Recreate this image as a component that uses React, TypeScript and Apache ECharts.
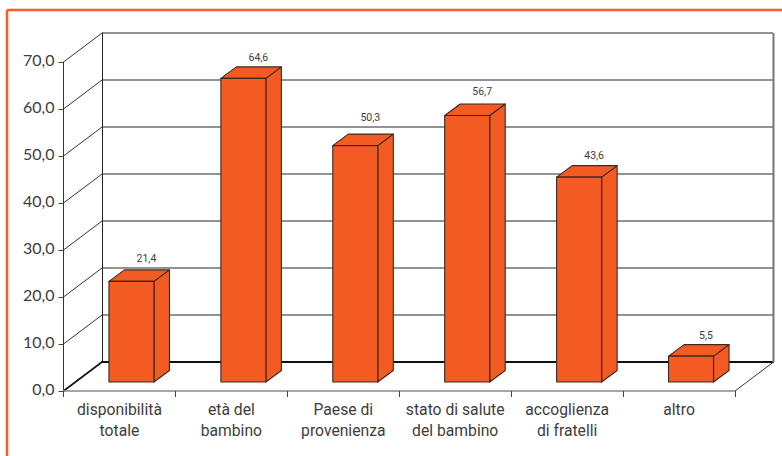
import React, { useEffect, useRef } from "react";
import * as echarts from "echarts";

const categories = ["disponibilità\ntotale", "età del\nbambino", "Paese di\nprovenienza", "stato di salute\ndel bambino", "accoglienza\ndi fratelli", "altro"];
const values = [21.4, 64.6, 50.3, 56.7, 43.6, 5.5];
const wallTicks = [0, 10, 20, 30, 40, 50, 60, 70];

const FRONT = { left: 63.5, top: 62, width: 671.5, height: 329 };
const BACK = { left: 102, top: 33, width: 671, height: 329 };
const DX = BACK.left - FRONT.left;
const DY = BACK.top - FRONT.top;
const LABEL_LIFT = [23, 21, 28, 24, 22, 21];

const comma = (v: number) => v.toFixed(1).replace(".", ",");
const ORANGE = "#F35B22";
const EDGE = "#3A2A22";
const ink = "#3d3d3d";

export default function App() {
  const ref = useRef<HTMLDivElement>(null);
  useEffect(() => {
    const chart = echarts.init(ref.current!, undefined, { renderer: "svg" });
    chart.setOption({
      animation: false,
      backgroundColor: "#ffffff",
      graphic: [
        { type: "line", z: 0, shape: { x1: 7, y1: 10, x2: 782, y2: 10 }, style: { stroke: "#F4602A", lineWidth: 2.6 } },
        { type: "line", z: 0, shape: { x1: 7, y1: 10, x2: 7, y2: 456 }, style: { stroke: "#F4602A", lineWidth: 2.6 } },
      ],
      grid: [
        { ...FRONT, z: 3 },
        { ...BACK, z: 1 },
      ],
      xAxis: [
        {
          type: "category", gridIndex: 0, data: categories, boundaryGap: true, z: 3,
          axisLine: { show: true, lineStyle: { color: "#8a8a8a", width: 1.5 } },
          axisTick: { show: true, length: 6, lineStyle: { color: "#444", width: 1 } },
          axisLabel: { color: ink, fontFamily: "Roboto", fontSize: 15.7, lineHeight: 21, margin: 8, interval: 0 },
        },
        {
          type: "category", gridIndex: 1, data: categories, boundaryGap: true, z: 1,
          axisLine: { show: true, lineStyle: { color: "#111", width: 2 } },
          axisTick: { show: false }, axisLabel: { show: false },
        },
      ],
      yAxis: [
        {
          type: "value", gridIndex: 0, min: 0, max: 70, interval: 10, z: 3,
          axisLine: { show: true, lineStyle: { color: "#333", width: 1 } },
          axisTick: { show: true, length: 5, lineStyle: { color: "#444", width: 1 } },
          axisLabel: { color: ink, fontFamily: "Lato", fontSize: 16, margin: 9, verticalAlign: "bottom", lineHeight: 5, formatter: comma },
          splitLine: { show: false },
        },
        {
          type: "value", gridIndex: 1, min: 0, max: 70, interval: 10, z: 1,
          axisLine: { show: true, lineStyle: { color: "#222", width: 1 } },
          axisTick: { show: false }, axisLabel: { show: false },
          splitLine: { show: true, lineStyle: { color: "#6f6f6f", width: 1.5 } },
        },
      ],
      series: [
        {
          type: "custom", xAxisIndex: 0, yAxisIndex: 0, z: 2, silent: true, clip: false,
          data: wallTicks.map((t) => [0, t]),
          encode: { x: 0, y: 1 },
          renderItem: (_p: any, api: any) => {
            const t = api.value(1);
            const y = api.coord([0, t])[1];
            return {
              type: "line",
              shape: { x1: FRONT.left, y1: y, x2: BACK.left, y2: y + DY },
              style: { stroke: t === 0 ? "#111" : "#333", lineWidth: t === 0 ? 1.6 : 1 },
            };
          },
        },
        {
          type: "custom", xAxisIndex: 0, yAxisIndex: 0, z: 2, silent: true, clip: false,
          data: [[0, 0]],
          encode: { x: 0, y: 1 },
          renderItem: (_p: any, api: any) => {
            const y0 = api.coord([0, 0])[1];
            const y7 = api.coord([0, 70])[1];
            const xr = FRONT.left + FRONT.width;
            return {
              type: "group",
              children: [
                { type: "line", shape: { x1: xr, y1: y0, x2: xr + DX, y2: y0 + DY }, style: { stroke: "#333", lineWidth: 1 } },
                { type: "line", shape: { x1: xr + DX, y1: y0 + DY, x2: xr + DX, y2: y7 + DY }, style: { stroke: "#777", lineWidth: 2 } },
              ],
            };
          },
        },
        {
          type: "custom", xAxisIndex: 0, yAxisIndex: 0, z: 5, silent: true, clip: false,
          data: values.map((v, i) => [i, v]),
          encode: { x: 0, y: 1 },
          renderItem: (_p: any, api: any) => {
            const i = api.value(0);
            const v = api.value(1);
            const cx = api.coord([i, 0])[0] + 12;
            const yb = api.coord([i, 0])[1] - 9;
            const yt = api.coord([i, v])[1] - 9;
            const l = cx - 22.5;
            const r = cx + 22.5;
            const dx = 15.5;
            const dy = -11.5;
            const style = { fill: ORANGE, stroke: EDGE, lineWidth: 1.1, lineJoin: "round" };
            return {
              type: "group",
              children: [
                { type: "polygon", shape: { points: [[r, yt], [r + dx, yt + dy], [r + dx, yb + dy], [r, yb]] }, style },
                { type: "polygon", shape: { points: [[l, yt], [l + dx, yt + dy], [r + dx, yt + dy], [r, yt]] }, style },
                { type: "rect", shape: { x: l, y: yt, width: r - l, height: yb - yt }, style },
                {
                  type: "text",
                  style: {
                    text: comma(v), x: cx + 15, y: yt - LABEL_LIFT[i], align: "center", verticalAlign: "middle",
                    fill: ink, fontFamily: "Roboto", fontSize: 10.5,
                  },
                },
              ],
            };
          },
        },
      ],
    });
    return () => chart.dispose();
  }, []);
  return <div ref={ref} style={{ position: "absolute", left: 0, top: 0, width: 782, height: 456 }} />;
}
